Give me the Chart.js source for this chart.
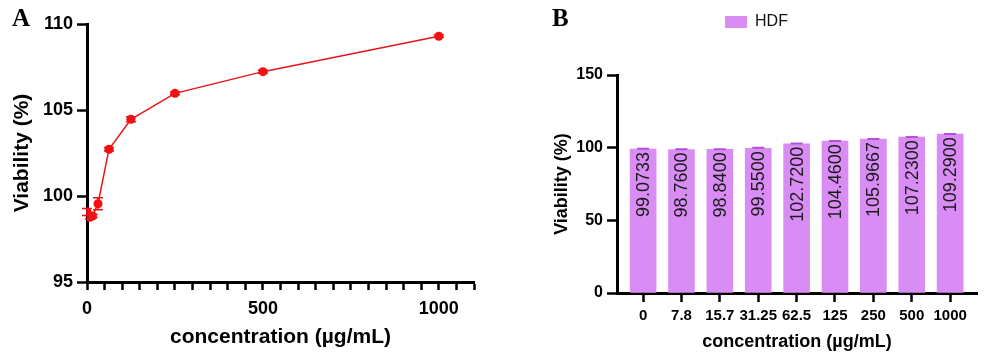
<!DOCTYPE html>
<html><head><meta charset="utf-8">
<script src="https://cdn.jsdelivr.net/npm/chart.js@4"></script>
<style>
body{margin:0;width:1000px;height:362px;background:#fff;overflow:hidden;position:relative;font-family:"Liberation Sans",Arial,sans-serif}
.pane{position:absolute;top:0;width:500px;height:362px}
.lab{position:absolute;font-family:"Liberation Serif","Times New Roman",serif;font-weight:bold;font-size:25px;line-height:1;color:#000}
</style></head><body>
<div class="pane" style="left:0"><canvas id="a" width="500" height="362"></canvas></div>
<div class="pane" style="left:500px"><canvas id="b" width="500" height="362"></canvas></div>
<div class="lab" style="left:12px;top:5px">A</div>
<div class="lab" style="left:552px;top:5px">B</div>
<script>
// ---- data ----
const concentrations = [0, 7.8, 15.7, 31.25, 62.5, 125, 250, 500, 1000];
const categoryLabels = ['0', '7.8', '15.7', '31.25', '62.5', '125', '250', '500', '1000'];
const viability = [99.0733, 98.76, 98.84, 99.55, 102.72, 104.46, 105.9667, 107.23, 109.29];
const viabilityErr = [0.2, 0.1, 0.1, 0.35, 0.1, 0.15, 0.08, 0.08, 0.08];
const barLabels = ['99.0733', '98.7600', '98.8400', '99.5500', '102.7200', '104.4600', '105.9667', '107.2300', '109.2900'];
const xTickLabelsA = [0, 500, 1000];
const yTicksA = [95, 100, 105, 110];
const yTicksB = [0, 50, 100, 150];
const seriesName = 'HDF';

Chart.defaults.font.family = '"Liberation Sans", Arial, sans-serif';
Chart.defaults.color = '#000';

const axisFont = (s) => ({size: s, weight: 'bold'});

// error bars for panel A
const errA = {
  id: 'errA',
  afterDatasetsDraw(chart) {
    const {ctx, scales: {x, y}} = chart;
    ctx.save();
    ctx.strokeStyle = '#e8141b';
    ctx.lineWidth = 1.5;
    concentrations.forEach((c, i) => {
      const px = x.getPixelForValue(c);
      const t = y.getPixelForValue(viability[i] + viabilityErr[i]);
      const b = y.getPixelForValue(viability[i] - viabilityErr[i]);
      ctx.beginPath();
      ctx.moveTo(px, t); ctx.lineTo(px, b);
      ctx.moveTo(px - 5, t); ctx.lineTo(px + 5, t);
      ctx.moveTo(px - 5, b); ctx.lineTo(px + 5, b);
      ctx.stroke();
    });
    ctx.restore();
  }
};

new Chart(document.getElementById('a'), {
  type: 'line',
  data: {
    datasets: [{
      data: concentrations.map((c, i) => ({x: c, y: viability[i]})),
      borderColor: '#e8141b',
      borderWidth: 1.5,
      pointRadius: 4.5,
      pointBackgroundColor: '#ff0a0a',
      pointBorderWidth: 0,
      tension: 0
    }]
  },
  options: {
    responsive: false,
    animation: false,
    layout: {padding: {top: 24, right: 26, left: 0, bottom: 0}},
    plugins: {legend: {display: false}, tooltip: {enabled: false}},
    scales: {
      x: {
        type: 'linear', min: 0, max: 1100,
        ticks: {stepSize: 50, autoSkip: false, maxRotation: 0,
          callback: (v) => xTickLabelsA.includes(v) ? String(v) : '',
          font: axisFont(18), color: '#000', padding: 8},
        grid: {drawOnChartArea: false, drawTicks: true, tickLength: 8, tickColor: '#000', tickWidth: 2.5},
        border: {color: '#000', width: 3},
        title: {display: true, text: 'concentration (µg/mL)', font: axisFont(21), color: '#000', padding: {top: 0, bottom: 12}},
        afterFit: (s) => { s.height = 80; s.paddingLeft = 0; s.paddingRight = 0; }
      },
      y: {
        min: 95, max: 110,
        afterBuildTicks: (s) => { s.ticks = yTicksA.map(v => ({value: v})); },
        ticks: {font: axisFont(18), color: '#000', padding: 4},
        grid: {drawOnChartArea: false, drawTicks: true, tickLength: 10, tickColor: '#000', tickWidth: 2.5},
        border: {color: '#000', width: 3},
        title: {display: true, text: 'Viability (%)', font: axisFont(21), color: '#000', padding: {top: 10, bottom: 0}},
        afterFit: (s) => { s.width = 87; }
      }
    }
  },
  plugins: [errA]
});

// bar labels + error caps for panel B
const barDeco = {
  id: 'barDeco',
  afterDatasetsDraw(chart) {
    const {ctx, scales: {y}} = chart;
    const meta = chart.getDatasetMeta(0);
    ctx.save();
    meta.data.forEach((bar, i) => {
      const t = y.getPixelForValue(viability[i] + viabilityErr[i]);
      ctx.strokeStyle = '#b450dc';
      ctx.lineWidth = 2;
      ctx.beginPath();
      ctx.moveTo(bar.x, bar.y); ctx.lineTo(bar.x, t);
      ctx.moveTo(bar.x - 6, t); ctx.lineTo(bar.x + 6, t);
      ctx.stroke();
      ctx.save();
      ctx.translate(bar.x, bar.y + 3);
      ctx.rotate(-Math.PI / 2);
      ctx.fillStyle = '#1a1a1a';
      ctx.font = '18px "Liberation Sans", Arial, sans-serif';
      ctx.textAlign = 'right';
      ctx.textBaseline = 'middle';
      ctx.fillText(barLabels[i], 0, 1);
      ctx.restore();
    });
    ctx.restore();
  }
};

new Chart(document.getElementById('b'), {
  type: 'bar',
  data: {
    datasets: [{
      label: seriesName,
      data: categoryLabels.map((_, i) => ({x: i, y: viability[i]})),
      backgroundColor: '#da8cf5',
      borderWidth: 0,
      barThickness: 26
    }]
  },
  options: {
    responsive: false,
    animation: false,
    layout: {padding: {top: 0, right: 23, left: 36, bottom: 0}},
    plugins: {
      tooltip: {enabled: false},
      legend: {display: true, position: 'top',
        labels: {boxWidth: 22, boxHeight: 12, padding: 14, font: {size: 16}, color: '#111'}},
      subtitle: {display: true, text: '', weight: 500, font: {size: 10}, padding: {top: 0, bottom: 23}}
    },
    scales: {
      x: {
        type: 'linear', min: -0.68, max: 8.7, offset: false,
        afterBuildTicks: (s) => { s.ticks = categoryLabels.map((_, i) => ({value: i})); },
        ticks: {autoSkip: false, maxRotation: 0,
          callback: (v) => categoryLabels[Math.round(v)],
          font: axisFont(15), color: '#000', padding: 5},
        grid: {offset: false, drawOnChartArea: false, drawTicks: true, tickLength: 9, tickColor: '#000', tickWidth: 2.5},
        border: {color: '#000', width: 3},
        title: {display: true, text: 'concentration (µg/mL)', font: axisFont(18), color: '#000', padding: {top: 0, bottom: 9}},
        afterFit: (s) => { s.height = 69; s.paddingLeft = 0; s.paddingRight = 0; }
      },
      y: {
        min: 0, max: 150,
        afterBuildTicks: (s) => { s.ticks = yTicksB.map(v => ({value: v})); },
        ticks: {font: axisFont(16), color: '#000', padding: 4},
        grid: {drawOnChartArea: false, drawTicks: true, tickLength: 10, tickColor: '#000', tickWidth: 2.5},
        border: {color: '#000', width: 3},
        title: {display: true, text: 'Viability (%)', font: axisFont(18), color: '#000', padding: {top: 15, bottom: 0}},
        afterFit: (s) => { s.width = 81; }
      }
    }
  },
  plugins: [barDeco]
});
</script>
</body></html>
